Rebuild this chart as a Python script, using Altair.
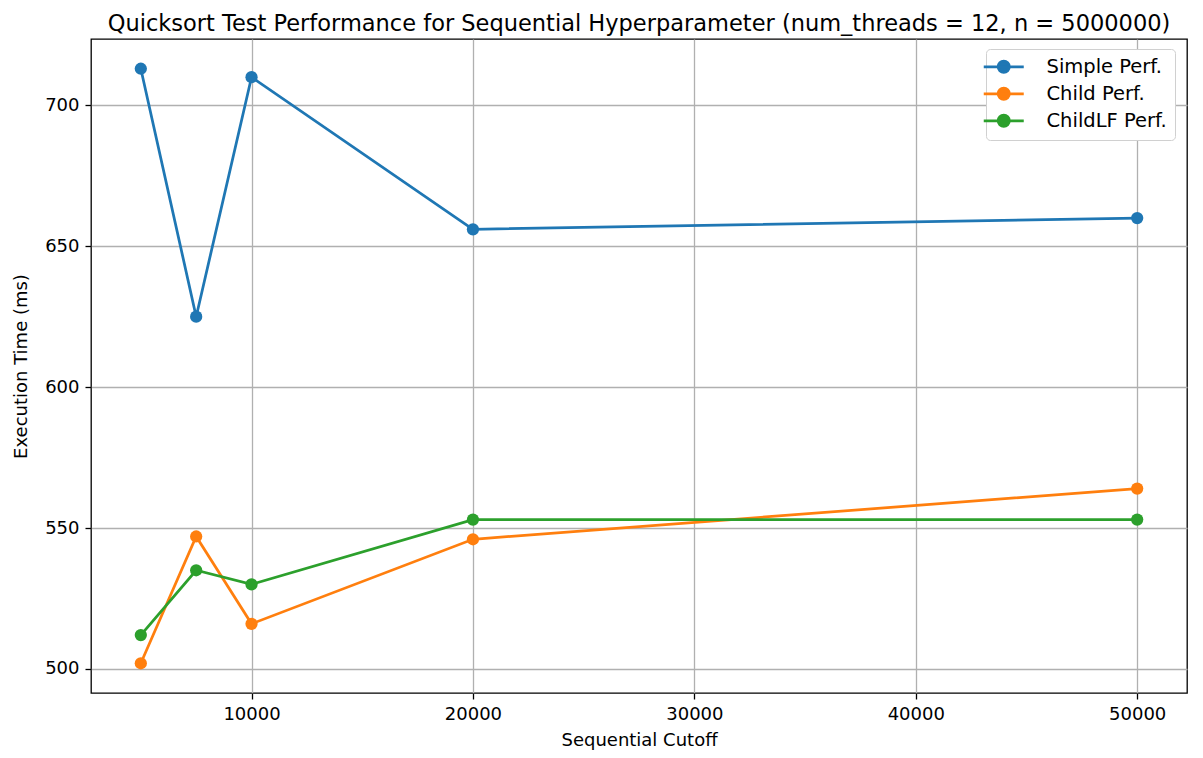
import altair as alt
import pandas as pd

cutoffs = [5000, 7500, 10000, 20000, 50000]
simple_perf = [713, 625, 710, 656, 660]
child_perf = [502, 547, 516, 546, 564]
childlf_perf = [512, 535, 530, 553, 553]
series_names = ["Simple Perf.", "Child Perf.", "ChildLF Perf."]
series_colors = ["#1f77b4", "#ff7f0e", "#2ca02c"]
x_ticks = [10000, 20000, 30000, 40000, 50000]
y_ticks = [500, 550, 600, 650, 700]

rows = []
for name, vals in zip(series_names, [simple_perf, child_perf, childlf_perf]):
    for c, v in zip(cutoffs, vals):
        rows.append({"cutoff": c, "time": v, "series": name})
df = pd.DataFrame(rows)

FONT = "DejaVu Sans"
legend_symbol = ("M-2.5,0L2.5,0M-0.7,0A0.7,0.7,0,1,1,0.7,0"
                 "A0.7,0.7,0,1,1,-0.7,0Z")

x = alt.X("cutoff:Q", title="Sequential Cutoff",
          scale=alt.Scale(domain=[2750, 52250], nice=False, zero=False),
          axis=alt.Axis(values=x_ticks, format="d"))
y = alt.Y("time:Q", title="Execution Time (ms)",
          scale=alt.Scale(domain=[491.45, 723.55], nice=False, zero=False),
          axis=alt.Axis(values=y_ticks, format="d"))
color = alt.Color("series:N", sort=series_names,
                  scale=alt.Scale(domain=series_names, range=series_colors),
                  legend=alt.Legend(title=None, orient="none", legendX=895, legendY=10,
                                    symbolType=legend_symbol, symbolSize=256,
                                    symbolStrokeWidth=2.75, symbolFillColor=None,
                                    labelFontSize=19.5, labelFont=FONT, labelColor="#000",
                                    labelOffset=33, rowPadding=4,
                                    padding=8, strokeColor="#d0d0d0", fillColor="#ffffff",
                                    cornerRadius=4))

base = alt.Chart(df).encode(x=x, y=y, color=color, detail="series:N")
lines = base.mark_line(strokeWidth=2.75)
points = base.mark_circle(size=150, opacity=1)

chart = (lines + points).properties(
    width=1096, height=654,
    title=alt.Title("Quicksort Test Performance for Sequential Hyperparameter (num_threads = 12, n = 5000000)",
                    font=FONT, fontSize=22.5, fontWeight="normal", color="#000",
                    anchor="middle", offset=4),
    autosize=alt.AutoSizeParams(type="none"),
    padding={"left": 83, "top": 31, "right": 8, "bottom": 57},
).configure_view(stroke="#000", strokeWidth=1.3
).configure_axis(
    labelFont=FONT, labelFontSize=18, labelColor="#000",
    titleFont=FONT, titleFontSize=18, titleColor="#000", titleFontWeight="normal",
    grid=True, gridColor="#b0b0b0", gridWidth=1.3,
    domain=False, tickColor="#000", tickSize=6, tickWidth=1.3, labelPadding=6,
).configure_axisX(titlePadding=8).configure_axisY(titlePadding=14)

chart.save("out.html", embed_options={"renderer": "svg", "actions": False})
